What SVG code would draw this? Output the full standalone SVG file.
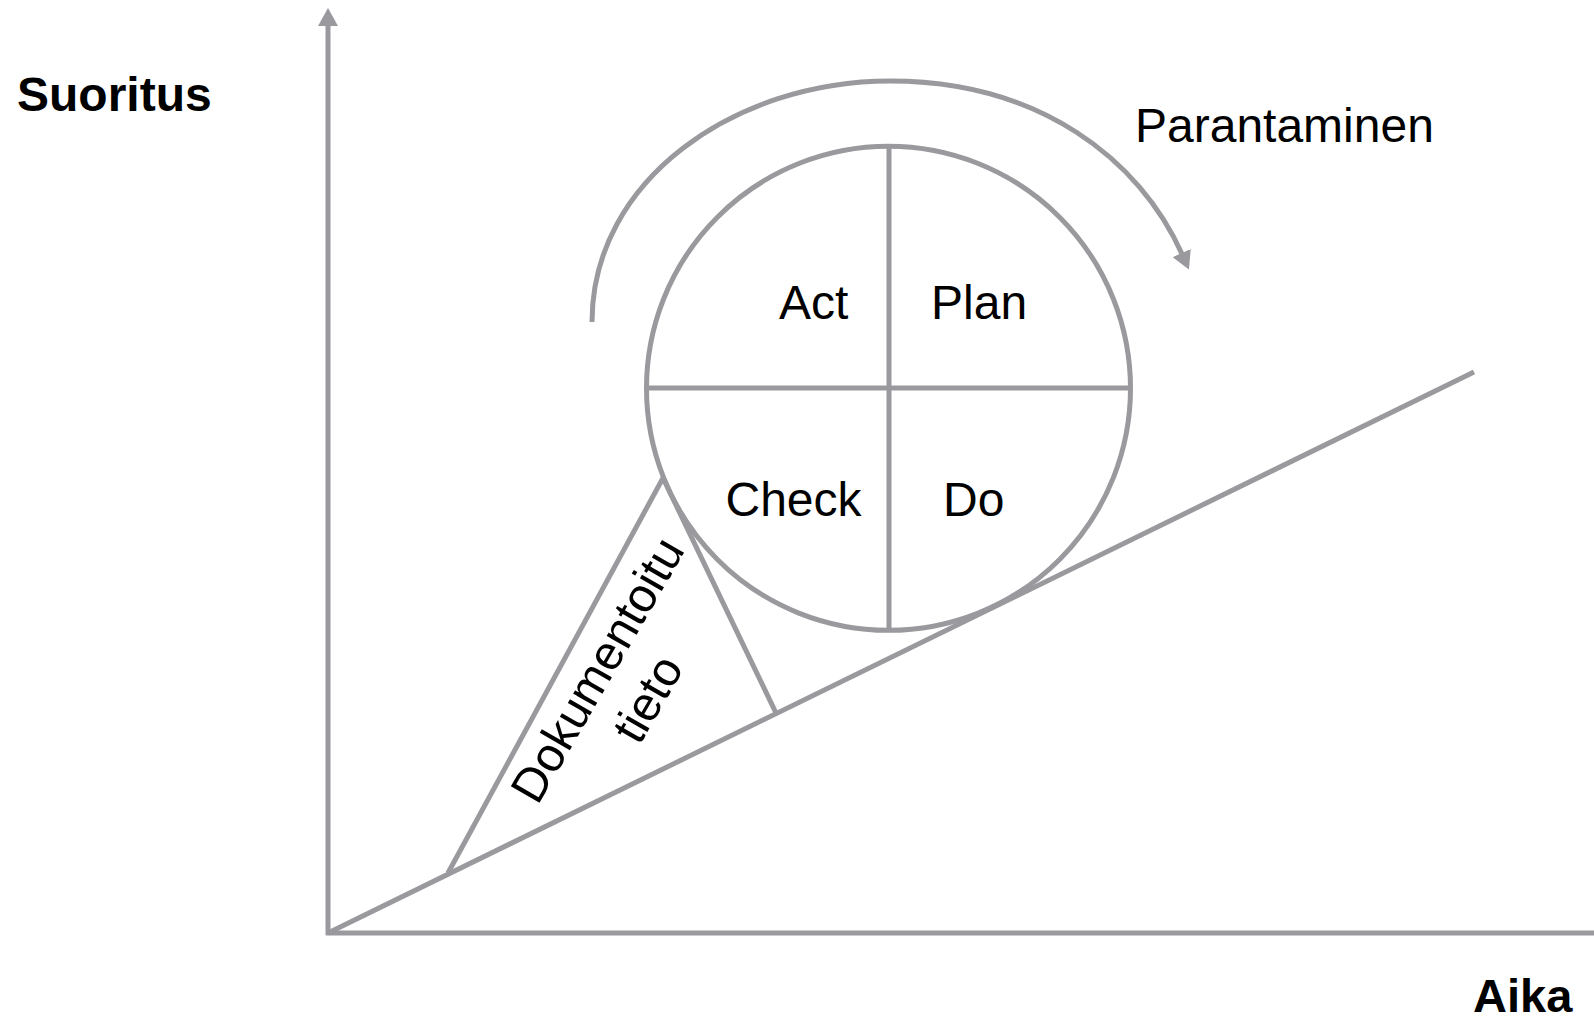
<svg xmlns="http://www.w3.org/2000/svg" width="1594" height="1019" viewBox="0 0 1594 1019">
<style>
.ln{stroke:#9a999e;stroke-width:5;fill:none}
.t{font-family:"Liberation Sans",Arial,sans-serif;font-size:48px;fill:#000}
.b{font-weight:bold}
</style>
<defs>
<marker id="ah" markerUnits="userSpaceOnUse" markerWidth="18" markerHeight="20" viewBox="0 0 18 20" refX="1" refY="10" orient="auto">
<polygon points="0,0 18,10 0,20" fill="#9a999e"/>
</marker>
</defs>
<rect width="1594" height="1019" fill="#fff"/>
<g id="connectors">
<line class="ln" x1="328" y1="935" x2="328" y2="25" marker-end="url(#ah)"/>
<line class="ln" x1="326" y1="933" x2="1594" y2="933"/>
<line class="ln" x1="328" y1="933" x2="1474" y2="372"/>
<line class="ln" x1="448" y1="873" x2="663" y2="478"/>
<line class="ln" x1="663" y1="478" x2="776" y2="713"/>
<path class="ln" d="M592,322 C592,180 735,81 890,81 C1040,81 1140,160 1182,254" marker-end="url(#ah)"/>
</g>
<g id="pdca">
<circle class="ln" cx="888.5" cy="388.3" r="242"/>
<line class="ln" x1="889" y1="146" x2="889" y2="630"/>
<line class="ln" x1="646" y1="388" x2="1130" y2="388"/>
</g>
<g id="labels">
<text class="t b" x="17" y="111">Suoritus</text>
<text class="t b" x="1473" y="1012" style="font-size:47px">Aika</text>
<text class="t" x="1135" y="142">Parantaminen</text>
<text class="t" x="779" y="319">Act</text>
<text class="t" x="931" y="319">Plan</text>
<text class="t" x="725.5" y="516">Check</text>
<text class="t" x="943" y="516">Do</text>
<g transform="translate(622,684) rotate(-60)">
<text class="t" x="0" y="-12" text-anchor="middle">Dokumentoitu</text>
<text class="t" x="0" y="46" text-anchor="middle">tieto</text>
</g>
</g>
</svg>
